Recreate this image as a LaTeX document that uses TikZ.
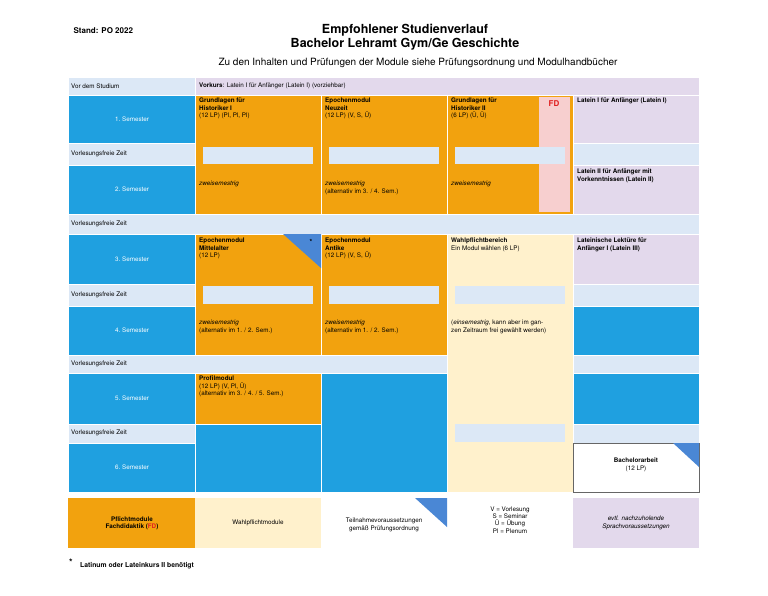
\documentclass[tikz,border=0pt]{standalone}
\usepackage{fontspec}
\setmainfont{TeX Gyre Heros}
\usepackage{tikz}
\definecolor{semblue}{HTML}{1FA0E0}
\definecolor{freeblue}{HTML}{DCE8F6}
\definecolor{pflicht}{HTML}{F2A20E}
\definecolor{wahl}{HTML}{FFF1CC}
\definecolor{latein}{HTML}{E3D9EC}
\definecolor{fdpink}{HTML}{F7CFCF}
\definecolor{tri}{HTML}{4A87D5}
\definecolor{fdred}{HTML}{E02020}
\tikzset{
  cell/.style={draw=white, line width=0.6pt},
  txt/.style={anchor=north west, align=left, inner sep=0pt, font=\fontsize{6.3}{7.4}\selectfont},
  sem/.style={white, inner sep=0pt, font=\fontsize{6.3}{7.4}\selectfont},
  free/.style={anchor=west, inner sep=0pt, font=\fontsize{6.3}{7.4}\selectfont},
}
\begin{document}
\begin{tikzpicture}[x=1pt,y=-1pt]
\useasboundingbox (0,0) rectangle (768,595);
% titles
\node[anchor=west, font=\bfseries\fontsize{8}{9}\selectfont] (stand) at (70,31) {Stand: PO 2022};
\node[font=\bfseries\fontsize{12.5}{14}\selectfont, align=center] (title) at (405,37) {Empfohlener Studienverlauf\\Bachelor Lehramt Gym/Ge Geschichte};
\node[font=\fontsize{10}{12}\selectfont] (sub) at (418,63) {Zu den Inhalten und Pr\"ufungen der Module siehe Pr\"ufungsordnung und Modulhandb\"ucher};
% left column and free rows
\fill[cell, fill=freeblue] (68,77) rectangle (195,95);
\fill[cell, fill=latein] (195,77) rectangle (699,95);
\foreach \ya/\yb/\n in {95/143/1, 165/214/2, 234/284/3, 306/355/4, 373/424/5, 443/492/6}
  \fill[cell, fill=semblue] (68,\ya) rectangle (195,\yb);
\foreach \ya/\yb in {143/165, 214/234, 284/306, 355/373, 424/443}
  \fill[cell, fill=freeblue] (68,\ya) rectangle (699,\yb);
% semester 1/2
\fill[cell, fill=pflicht] (195,95) rectangle (321,214);
\fill[cell, fill=pflicht] (321,95) rectangle (447,214);
\fill[cell, fill=pflicht] (447,95) rectangle (573,214);
\fill[fdpink] (539,97) rectangle (570,212);
\fill[cell, fill=latein] (573,95) rectangle (699,143);
\fill[cell, fill=latein] (573,165) rectangle (699,214);
% semester 3/4
\fill[cell, fill=pflicht] (195,234) rectangle (321,355);
\fill[cell, fill=pflicht] (321,234) rectangle (447,355);
\fill[cell, fill=wahl] (447,234) rectangle (573,492);
\fill[cell, fill=latein] (573,234) rectangle (699,284);
\fill[cell, fill=semblue] (195,373) rectangle (321,492);
\fill[cell, fill=semblue] (321,373) rectangle (447,492);
\fill[cell, fill=semblue] (573,306) rectangle (699,355);
\fill[cell, fill=semblue] (573,373) rectangle (699,424);
\fill[cell, fill=pflicht] (195,373) rectangle (321,424);
\draw[fill=white, draw=black!60] (573,443) rectangle (699,492);
\fill[tri] (673,443) -- (699,443) -- (699,467) -- cycle;
\fill[tri] (283,234) -- (321,234) -- (321,268) -- cycle;
% inset boxes
\foreach \x in {203,329,455}
  \fill[freeblue] (\x,147) rectangle (\x+110,164);
\foreach \x in {203,329,455}
  \fill[freeblue] (\x,286) rectangle (\x+110,304);
\fill[freeblue] (455,424) rectangle (565,442);
% labels left
\node[free] (vor) at (71,86) {Vor dem Studium};
\foreach \ya/\yb/\n in {95/143/1, 165/214/2, 234/284/3, 306/355/4, 373/424/5, 443/492/6}
  \node[sem] (sem\n) at (132,{(\ya+\yb)/2}) {\n.\ Semester};
\foreach \y/\n in {154/a, 224/b, 295/c, 364/d, 433/e}
  \node[free] (frei\n) at (71,\y) {Vorlesungsfreie Zeit};
% module texts
\node[free] (vorkurs) at (199,86) {\textbf{Vorkurs}: Latein I f\"ur Anf\"anger (Latein I) (vorziehbar)};
\node[txt] (ghA) at (199,98) {\textbf{Grundlagen f\"ur}\\\textbf{Historiker I}\\(12 LP) (Pl, Pl, Pl)};
\node[txt] (neuzeit) at (325,98) {\textbf{Epochenmodul}\\\textbf{Neuzeit}\\(12 LP) (V, S, \"U)};
\node[txt] (ghB) at (451,98) {\textbf{Grundlagen f\"ur}\\\textbf{Historiker II}\\(6 LP) (\"U, \"U)};
\node[font=\bfseries\fontsize{8}{9}\selectfont, text=fdred] (fd) at (554,104) {FD};
\node[txt] (latA) at (577,98) {\textbf{Latein I f\"ur Anf\"anger (Latein I)}};
\node[txt] (zwA) at (199,181) {\textit{zweisemestrig}};
\node[txt] (zwB) at (325,181) {\textit{zweisemestrig}\\(alternativ im 3. / 4. Sem.)};
\node[txt] (zwC) at (451,181) {\textit{zweisemestrig}};
\node[txt] (latB) at (577,169) {\textbf{Latein II f\"ur Anf\"anger mit}\\\textbf{Vorkenntnissen (Latein II)}};
\node[txt] (mittel) at (199,238) {\textbf{Epochenmodul}\\\textbf{Mittelalter}\\(12 LP)};
\node[font=\bfseries\fontsize{7}{8}\selectfont, inner sep=0pt] (stern) at (311,242) {*};
\node[txt] (antike) at (325,238) {\textbf{Epochenmodul}\\\textbf{Antike}\\(12 LP) (V, S, \"U)};
\node[txt] (wahlb) at (451,238) {\textbf{Wahlpflichtbereich}\\Ein Modul w\"ahlen (6 LP)};
\node[txt] (latC) at (577,238) {\textbf{Lateinische Lekt\"ure f\"ur}\\\textbf{Anf\"anger I (Latein III)}};
\node[txt] (zwD) at (199,320) {\textit{zweisemestrig}\\(alternativ im 1. / 2. Sem.)};
\node[txt] (zwE) at (325,320) {\textit{zweisemestrig}\\(alternativ im 1. / 2. Sem.)};
\node[txt] (einsem) at (451,320) {(\textit{einsemestrig}, kann aber im gan-\\zen Zeitraum frei gew\"ahlt werden)};
\node[txt] (profil) at (199,376) {\textbf{Profilmodul}\\(12 LP) (V, Pl, \"U)\\(alternativ im 3. / 4. / 5. Sem.)};
\node[txt, anchor=north, align=center] (bach) at (636,458) {\textbf{Bachelorarbeit}\\(12 LP)};
% legend
\fill[pflicht] (68,498) rectangle (195,548);
\fill[wahl] (195,498) rectangle (321,548);
\fill[tri] (415,498) -- (447,498) -- (447,527) -- cycle;
\fill[latein] (573,498) rectangle (699,548);
\node[txt, anchor=center, align=center] (legA) at (132,523) {\textbf{Pflichtmodule}\\\textbf{Fachdidaktik (\textcolor{fdred}{FD})}};
\node[txt, anchor=center] (legB) at (258,523) {Wahlpflichtmodule};
\node[txt, anchor=center, align=center] (legC) at (384,525) {Teilnahmevoraussetzungen\\gem\"a\ss{} Pr\"ufungsordnung};
\node[txt, anchor=center, align=center] (legD) at (510,520) {V = Vorlesung\\S = Seminar\\\"U = \"Ubung\\Pl = Plenum};
\node[txt, anchor=center, align=center] (legE) at (636,523) {\textit{evtl. nachzuholende}\\\textit{Sprachvoraussetzungen}};
\node[anchor=west, inner sep=0pt, font=\bfseries\fontsize{9}{10}\selectfont] (stern2) at (69,562) {*};
\node[anchor=west, inner sep=0pt, font=\bfseries\fontsize{6.8}{8}\selectfont] (fuss) at (80,566) {Latinum oder Lateinkurs II ben\"otigt};
\end{tikzpicture}
\end{document}
